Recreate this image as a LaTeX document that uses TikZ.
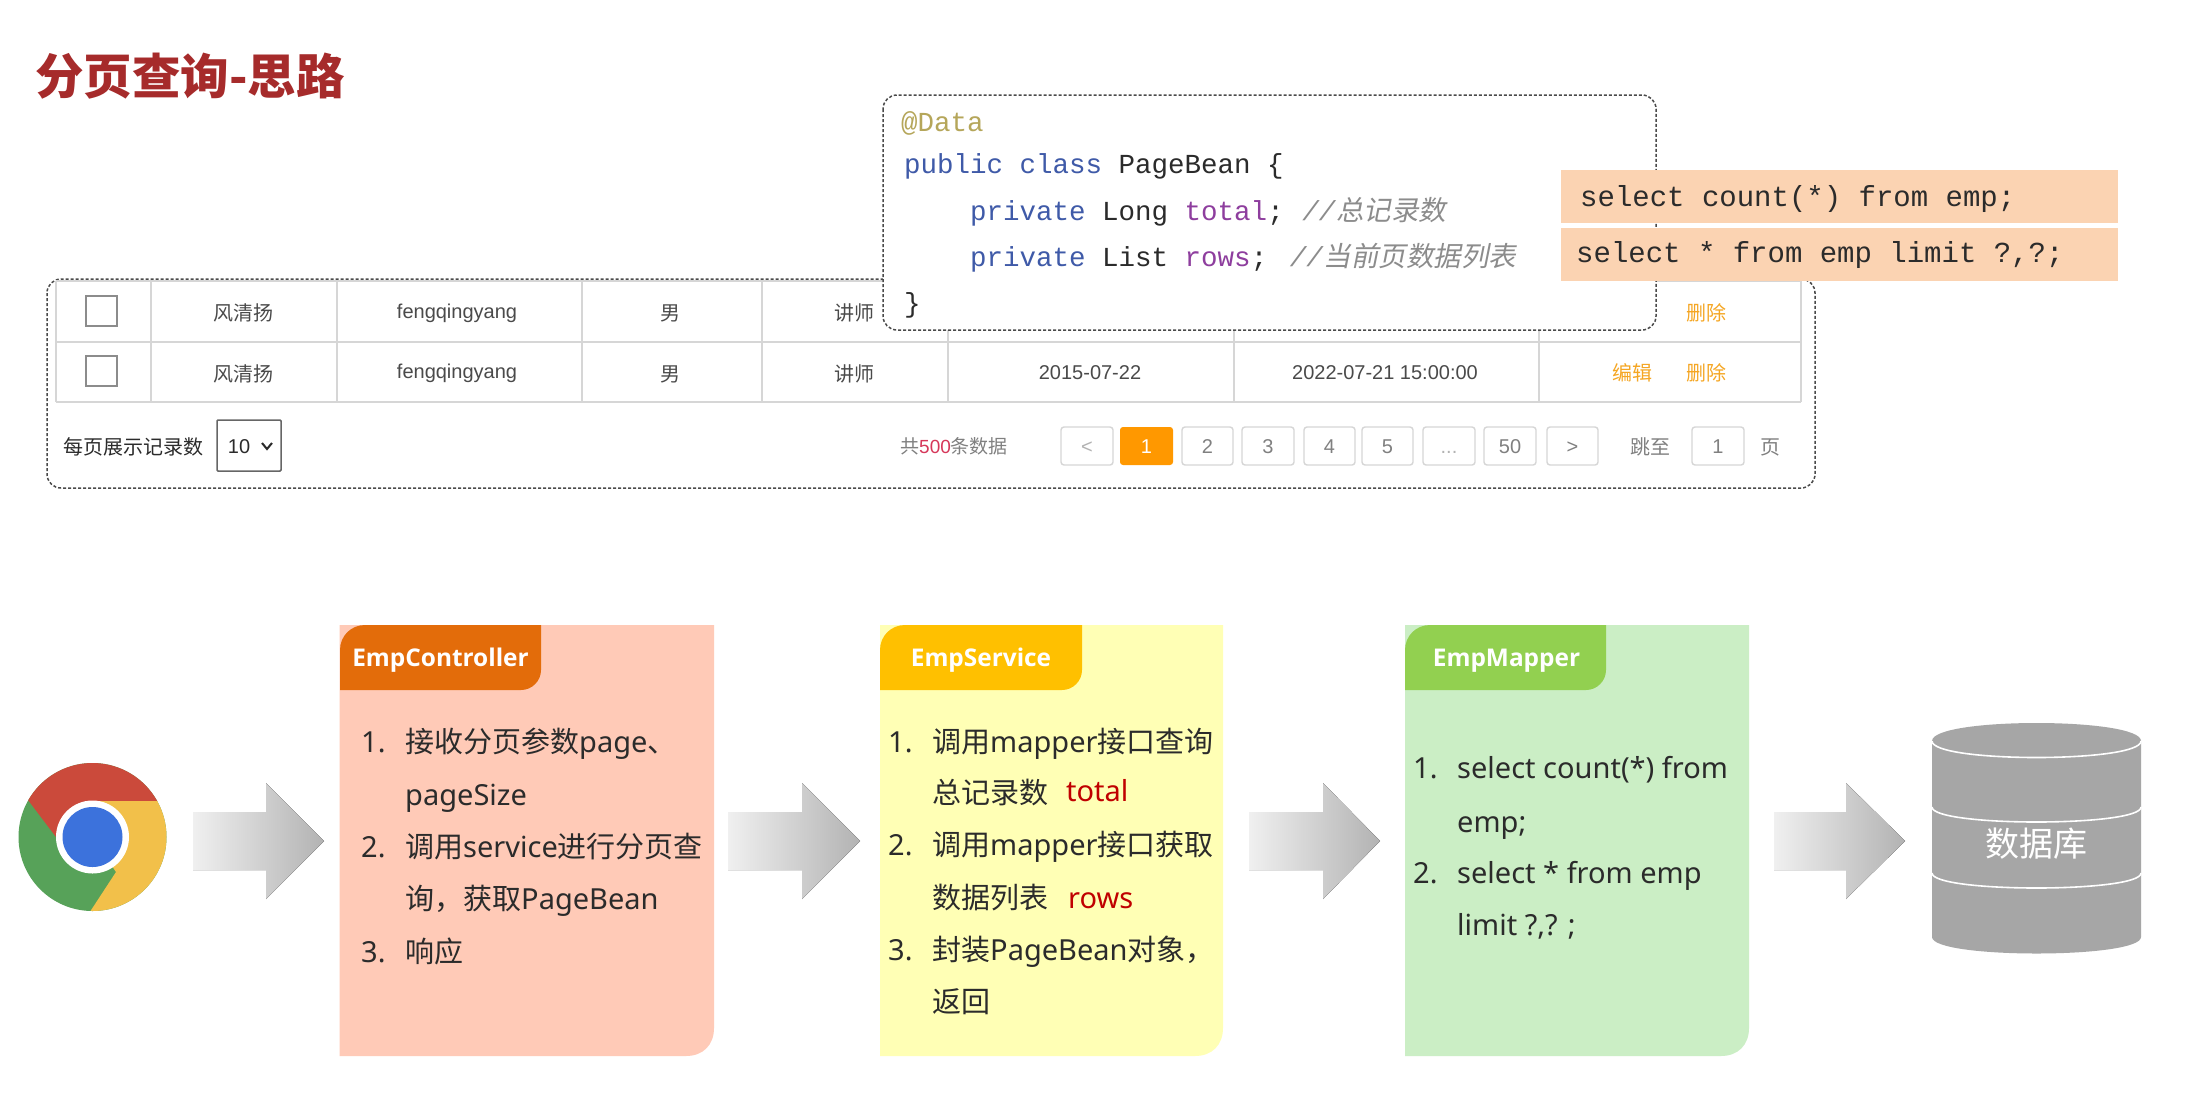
\documentclass[tikz,border=0pt]{standalone}
\usepackage{fontspec}
\setmainfont{Noto Sans}
\newfontfamily\zh{Noto Sans CJK SC}
\newfontfamily\zhit[FakeSlant=0.2]{Noto Sans CJK SC}
\newfontfamily\mo{Liberation Mono}
\newfontfamily\ar{Liberation Sans}
\newfontfamily\op{Open Sans}
\newcommand\Z[1]{{\zh #1}}
\definecolor{titlered}{HTML}{A62B2B}
\definecolor{ink}{HTML}{2B2B2B}
\definecolor{gridc}{HTML}{D6D6D6}
\definecolor{cellink}{HTML}{4A4A4A}
\definecolor{linko}{HTML}{F5A623}
\definecolor{pageo}{HTML}{FF9800}
\definecolor{dashc}{HTML}{4A4A4A}
\definecolor{annot}{HTML}{B5A65A}
\definecolor{kw}{HTML}{3F5AA8}
\definecolor{fieldc}{HTML}{8E3E9E}
\definecolor{commentc}{HTML}{8C8C8C}
\definecolor{sqlbg}{HTML}{FBD3B2}
\definecolor{redtxt}{HTML}{C00000}
\definecolor{pinktxt}{HTML}{D6375A}
\definecolor{cardA}{HTML}{FFCAB7}
\definecolor{tabA}{HTML}{E36C0A}
\definecolor{cardB}{HTML}{FFFFB5}
\definecolor{tabB}{HTML}{FFC000}
\definecolor{cardC}{HTML}{CBEEC5}
\definecolor{tabC}{HTML}{92D050}
\definecolor{dbgray}{HTML}{A6A6A6}
\definecolor{chromeR}{HTML}{CB4A3B}
\definecolor{chromeG}{HTML}{57A259}
\definecolor{chromeY}{HTML}{F2C04A}
\definecolor{chromeB}{HTML}{3C72DC}
\tikzset{
  t/.style={font=\ar\fontsize{#1}{#1}\selectfont,inner sep=0pt,anchor=base},
  tl/.style={t=#1,anchor=base west},
  cell/.style={t=20,text=cellink},
  zcell/.style={font=\zh\fontsize{20}{20}\selectfont,inner sep=0pt,anchor=base,text=cellink},
  opbtn/.style={zcell,text=linko},
  pgbtn/.style={draw=gridc,line width=1.4pt,fill=white,rounded corners=3pt},
  pgtxt/.style={t=20,text=black!50},
  dashbox/.style={draw=dashc,line width=1.5pt,dash pattern=on 3pt off 2pt,rounded corners=14pt},
  codeline/.style={font=\mo\fontsize{27.5}{27.5}\selectfont,inner sep=0pt,anchor=base west,text=ink},
  sqlline/.style={font=\mo\fontsize{29}{29}\selectfont,inner sep=0pt,anchor=base west,text=ink},
  li/.style={font=\fontsize{29}{29}\selectfont,inner sep=0pt,anchor=base west,text=ink},
  tabtxt/.style={font=\op\bfseries\fontsize{24.4}{24.4}\selectfont,inner sep=0pt,anchor=base,text=white},
  bigarrow/.style={left color=black!6,right color=black!30,draw=none},
  grid/.style={draw=gridc,line width=1.6pt},
  gridb/.style={draw=gridc,line width=2.8pt},
}
\begin{document}
\begin{tikzpicture}[x=1pt,y=-1pt]
\useasboundingbox (0,0) rectangle (2199,1092);
\fill[white] (0,0) rectangle (2199,1092);
% title
\node[inner sep=0pt,anchor=base west,text=titlered,font=\zh\bfseries\fontsize{48.5}{48.5}\selectfont] (title) at (35,94) {分页查询-思路};
% table
\draw[dashbox] (47,279) rectangle (1815,488);
\draw[grid] (56,281) -- (1801,281);
\draw[gridb] (56,342) -- (1801,342);
\draw[gridb] (56,402) -- (1801,402);
\foreach \x in {56,151,337,582,762,948,1234,1539,1801} \draw[grid] (\x,281) -- (\x,402);
\draw[draw=black!45,line width=1.4pt] (86,296) rectangle (117,326);
\draw[draw=black!45,line width=1.4pt] (86,356) rectangle (117,386);
\node[zcell] (n1a) at (243,320) {风清扬};
\node[zcell] (n1b) at (243,381) {风清扬};
\node[cell] (u1a) at (457,318) {fengqingyang};
\node[cell] (u1b) at (457,378) {fengqingyang};
\node[zcell] (g1a) at (670,320) {男};
\node[zcell] (g1b) at (670,381) {男};
\node[zcell] (r1a) at (854,320) {讲师};
\node[zcell] (r1b) at (854,381) {讲师};
\node[cell] (d1b) at (1090,379) {2015-07-22};
\node[cell] (d2b) at (1385,379) {2022-07-21 15:00:00};
\node[opbtn] (del1) at (1706,320) {删除};
\node[opbtn] (edit2) at (1632,380) {编辑};
\node[opbtn] (del2) at (1706,380) {删除};
% footer of table
\node[zcell,anchor=base west,text=ink] (perpage) at (63,454) {每页展示记录数};
\draw[draw=black!60,line width=1.5pt,rounded corners=1pt] (217,420) rectangle (281,471);
\node[cell,text=ink] (ten) at (239,453) {10};
\draw[ink,line width=2pt] (262,443) -- (267,449) -- (272,443);
\node[pgtxt,anchor=base west,font=\zh\fontsize{19}{19}\selectfont] (total) at (900,453) {共{\ar\color{pinktxt}500}条数据};
\foreach \a/\b in {1061/1113,1182/1233,1242/1294,1304/1355,1362/1413,1423/1475,1484/1536,1547/1598,1692/1744}{
  \draw[pgbtn] (\a,427) rectangle (\b,465);
}
\fill[pageo,rounded corners=3pt] (1120,427) rectangle (1173,465);
\node[t=20,text=white] (p1) at (1146.5,453) {1};
\node[pgtxt,text=black!30] (pl) at (1087,453) {<};
\node[pgtxt] (p2) at (1207.5,453) {2};
\node[pgtxt] (p3) at (1268,453) {3};
\node[pgtxt] (p4) at (1329.5,453) {4};
\node[pgtxt] (p5) at (1387.5,453) {5};
\node[pgtxt,text=black!30] (p6) at (1449,453) {...};
\node[pgtxt] (p7) at (1510,453) {50};
\node[pgtxt] (pr) at (1572.5,453) {>};
\node[zcell,text=black!50] (jump) at (1650,454) {跳至};
\node[pgtxt] (pj) at (1718,453) {1};
\node[zcell,text=black!50] (pg) at (1770,454) {页};
% code box
\path[dashbox,fill=white] (883,95) rectangle (1656,330);
\node[codeline,text=annot] (c1) at (901,131) {@Data};
\node[codeline] (c2) at (904,173) {\textcolor{kw}{public class} PageBean \{};
\node[codeline] (c3) at (970,220) {\textcolor{kw}{private} Long \textcolor{fieldc}{total}; \hspace{2pt}\textcolor{commentc}{\textit{//}{\zhit\fontsize{27.5}{27.5}\selectfont 总记录数}}};
\node[codeline] (c4) at (970,266) {\textcolor{kw}{private} List \textcolor{fieldc}{rows}; \hspace{6pt}\textcolor{commentc}{\textit{//}{\zhit\fontsize{27.5}{27.5}\selectfont 当前页数据列表}}};
\node[codeline] (c5) at (904,312) {\}};
% SQL
\fill[sqlbg] (1561,170) rectangle (2118,223);
\fill[sqlbg] (1561,228) rectangle (2118,281);
\node[sqlline] (s1) at (1580,206) {select count(*) from emp;};
\node[sqlline] (s2) at (1576,262) {select * from emp limit ?,?;};
% chrome
\begin{scope}
\clip (92.5,837) circle (74);
\fill[chromeG] (0,740) rectangle (190,930);
\fill[chromeR] (92.5,801) -- (200,801) -- (200,700) -- (0,700) -- (0,763) -- (56,837) -- (92.5,837) -- cycle;
\fill[chromeY] (92.5,801) -- (200,801) -- (200,950) -- (65,950) -- (116,872) -- (92.5,837) -- cycle;
\end{scope}
\fill[white] (92.5,837) circle (36.5);
\fill[chromeB] (92.5,837) circle (30);
% arrows
\fill[bigarrow] (193,812) -- (266,812) -- (266,783) -- (324,841) -- (266,899) -- (266,870) -- (193,870) -- cycle;
\fill[bigarrow] (728,812) -- (802,812) -- (802,783) -- (860,841) -- (802,899) -- (802,870) -- (728,870) -- cycle;
\fill[bigarrow] (1249,812) -- (1323,812) -- (1323,783) -- (1380,841) -- (1323,899) -- (1323,870) -- (1249,870) -- cycle;
\fill[bigarrow] (1774,812) -- (1846,812) -- (1846,783) -- (1905,841) -- (1846,899) -- (1846,870) -- (1774,870) -- cycle;
% card A
\fill[cardA] (339.5,625) -- (714,625) -- (714,1028) .. controls (714,1045) and (703,1056) .. (686,1056) -- (339.5,1056) -- cycle;
\fill[tabA] (340,690) -- (340,650) .. controls (340,636) and (351,625) .. (365,625) -- (541,625) -- (541,670) .. controls (541,681) and (532,690) .. (521,690) -- cycle;
\node[tabtxt] (hA) at (440.5,666) {EmpController};
\node[li] (a1n) at (361,752) {1.};
\node[li] (a1) at (405,752) {\Z{接收分页参数}page\Z{、}};
\node[li] (a1b) at (405,805) {pageSize};
\node[li] (a2n) at (361,857) {2.};
\node[li] (a2) at (405,857) {\Z{调用}service\Z{进行分页查}};
\node[li] (a2b) at (405,909) {\Z{询，获取}PageBean};
\node[li] (a3n) at (361,962) {3.};
\node[li] (a3) at (405,962) {\Z{响应}};
% card B
\fill[cardB] (880,625) -- (1223,625) -- (1223,1028) .. controls (1223,1045) and (1212,1056) .. (1195,1056) -- (880,1056) -- cycle;
\fill[tabB] (880,690) -- (880,650) .. controls (880,636) and (891,625) .. (905,625) -- (1082,625) -- (1082,670) .. controls (1082,681) and (1073,690) .. (1062,690) -- cycle;
\node[tabtxt] (hB) at (981,666) {EmpService};
\node[li] (b1n) at (888,752) {1.};
\node[li] (b1) at (932,752) {\Z{调用}mapper\Z{接口查询}};
\node[li] (b1b) at (932,803) {\Z{总记录数}};
\node[li,text=redtxt] (b1r) at (1066,801) {total};
\node[li] (b2n) at (888,855) {2.};
\node[li] (b2) at (932,855) {\Z{调用}mapper\Z{接口获取}};
\node[li] (b2b) at (932,908) {\Z{数据列表}};
\node[li,text=redtxt] (b2r) at (1068,908) {rows};
\node[li] (b3n) at (888,960) {3.};
\node[li] (b3) at (932,960) {\Z{封装}PageBean\Z{对象，}};
\node[li] (b3b) at (932,1012) {\Z{返回}};
% card C
\fill[cardC] (1405,625) -- (1749,625) -- (1749,1028) .. controls (1749,1045) and (1738,1056) .. (1721,1056) -- (1405,1056) -- cycle;
\fill[tabC] (1405,690) -- (1405,650) .. controls (1405,636) and (1416,625) .. (1430,625) -- (1606,625) -- (1606,670) .. controls (1606,681) and (1597,690) .. (1586,690) -- cycle;
\node[tabtxt] (hC) at (1506.5,666) {EmpMapper};
\node[li] (c1n) at (1413,778) {1.};
\node[li] (c1t) at (1457,778) {select count(*) from};
\node[li] (c1b) at (1457,832) {emp;};
\node[li] (c2n) at (1413,883) {2.};
\node[li] (c2t) at (1457,883) {select * from emp};
\node[li] (c2b) at (1457,935) {limit ?,? ;};
% database
\fill[dbgray] (1932,741) .. controls (1932,717) and (2141,717) .. (2141,741) -- (2141,937) .. controls (2141,959) and (1932,959) .. (1932,937) -- cycle;
\draw[white,line width=1.6pt] (1932,741) .. controls (1932,763) and (2141,763) .. (2141,741);
\draw[white,line width=1.6pt] (1932,807) .. controls (1932,827) and (2141,827) .. (2141,807);
\draw[white,line width=1.6pt] (1932,873) .. controls (1932,893) and (2141,893) .. (2141,873);
\node[inner sep=0pt,anchor=base,text=white,font=\zh\fontsize{34}{34}\selectfont] (db) at (2036,856) {数据库};
\end{tikzpicture}
\end{document}
